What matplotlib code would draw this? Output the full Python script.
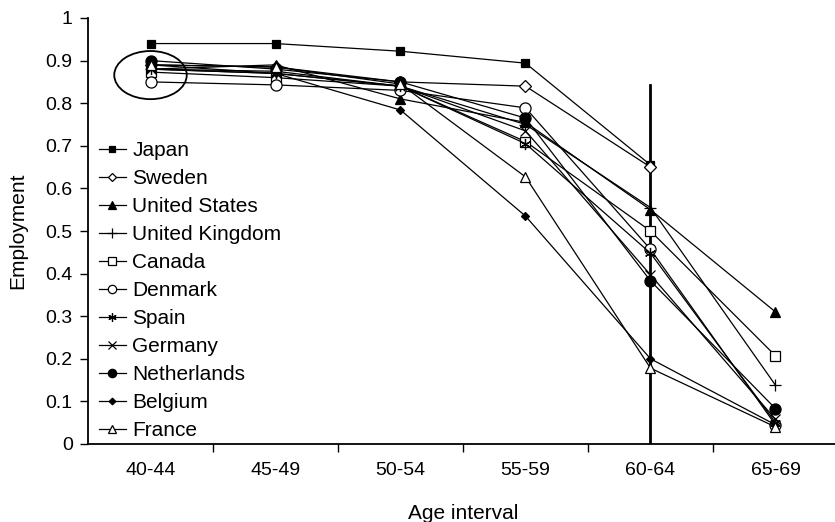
import matplotlib
matplotlib.use("Agg")
import matplotlib.pyplot as plt
from matplotlib.patches import Ellipse
import numpy as np

plt.rcParams["font.family"] = ["Liberation Sans", "DejaVu Sans"]

AGES = ["40-44", "45-49", "50-54", "55-59", "60-64", "65-69"]
nan = np.nan

japan       = [0.940, 0.940, 0.922, 0.894, 0.655, nan]
sweden      = [0.890, 0.885, 0.850, 0.840, 0.650, nan]
united_st   = [0.880, 0.890, 0.810, 0.755, 0.550, 0.310]
united_kg   = [0.880, 0.875, 0.840, 0.750, 0.555, 0.138]
canada      = [0.873, 0.860, 0.840, 0.710, 0.500, 0.207]
denmark     = [0.850, 0.843, 0.830, 0.789, 0.457, 0.045]
spain       = [0.880, 0.870, 0.840, 0.705, 0.448, 0.050]
germany     = [0.880, 0.870, 0.840, 0.735, 0.397, 0.058]
netherlands = [0.900, 0.880, 0.850, 0.765, 0.383, 0.083]
belgium     = [0.890, 0.870, 0.784, 0.535, 0.200, 0.045]
france      = [0.890, 0.885, 0.845, 0.627, 0.178, 0.040]

SERIES = [
    ("Japan", japan, dict(marker="s", ms=6, mfc="black")),
    ("Sweden", sweden, dict(marker="D", ms=6, mfc="white")),
    ("United States", united_st, dict(marker="^", ms=7, mfc="black")),
    ("United Kingdom", united_kg, dict(marker="+", ms=9, mfc="black")),
    ("Canada", canada, dict(marker="s", ms=7, mfc="white")),
    ("Denmark", denmark, dict(marker="o", ms=8, mfc="white")),
    ("Spain", spain, dict(marker=(6, 2, 0), ms=8, mfc="black")),
    ("Germany", germany, dict(marker="x", ms=7, mfc="black")),
    ("Netherlands", netherlands, dict(marker="o", ms=8, mfc="black")),
    ("Belgium", belgium, dict(marker="D", ms=4.5, mfc="black")),
    ("France", france, dict(marker="^", ms=7, mfc="white")),
]

fig = plt.figure(figsize=(8.35, 5.22), dpi=100)
ax = fig.add_axes([88 / 835, 1 - 444 / 522, 750 / 835, 426 / 522])

x = np.arange(len(AGES))
for name, vals, st in SERIES:
    ax.plot(x, vals, color="black", lw=0.9, mec="black", mew=0.9,
            label=name, clip_on=False, **st)

# vertical marker line at 60-64
ax.plot([4, 4], [0, 0.843], color="black", lw=2, zorder=1)

ax.add_patch(Ellipse((0, 0.866), 0.58, 0.113, fill=False, ec="black", lw=1.3))

ax.set_xlim(-0.5, 5.5)
ax.set_ylim(0, 1)
ax.set_yticks(np.arange(0, 1.01, 0.1))
ax.set_yticklabels(["0"] + [f"{v:.1f}" for v in np.arange(0.1, 0.95, 0.1)] + ["1"])
ax.set_xticks(x)
ax.set_xticklabels(AGES)
ax.set_xticks(np.arange(0.5, 5.0, 1.0), minor=True)
ax.tick_params(axis="x", which="major", length=0, labelsize=14, pad=13)
ax.tick_params(axis="x", which="minor", length=6, width=1)
ax.tick_params(axis="y", length=6, width=1, labelsize=14, pad=5)

for s in ["top", "right"]:
    ax.spines[s].set_visible(False)
for s in ["left", "bottom"]:
    ax.spines[s].set_linewidth(1.3)

ax.set_xlabel("Age interval", fontsize=15, labelpad=18)
ax.set_ylabel("Employment", fontsize=15, labelpad=13)

ax.legend(loc="upper left", bbox_to_anchor=(-0.005, 0.745), frameon=False,
          fontsize=15, labelspacing=0.43, handlelength=1.3,
          handletextpad=0.3, markerscale=0.75, borderaxespad=0.3)

fig.savefig("out.png", dpi=100)
